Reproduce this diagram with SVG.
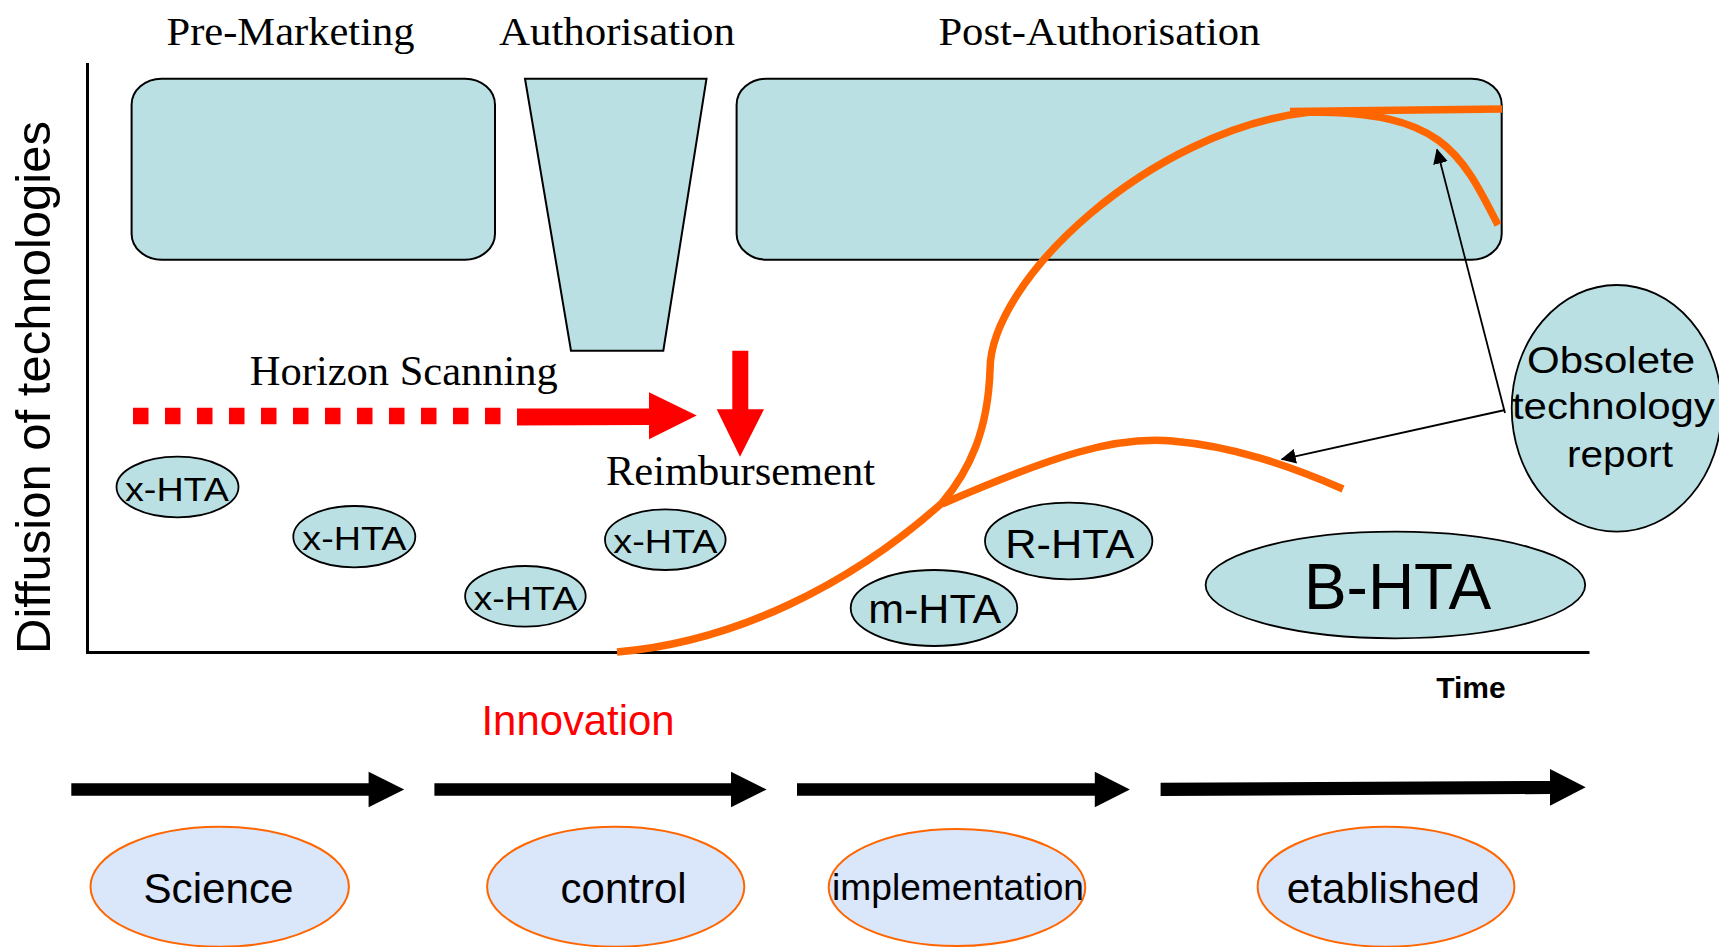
<svg xmlns="http://www.w3.org/2000/svg" width="1719" height="947" viewBox="0 0 1719 947">
<defs>
<style>
.box{fill:#BAE0E3;stroke:#000;stroke-width:2}
.ell{fill:#BAE0E3;stroke:#000;stroke-width:1.8}
.stage{fill:#DAE6FA;stroke:#FF6600;stroke-width:2}
.serif{font-family:"Liberation Serif","Times New Roman",serif;fill:#000}
.sans{font-family:"Liberation Sans",Arial,sans-serif;fill:#000}
.curve{fill:none;stroke:#FF6600;stroke-width:7.5}
.thin{fill:none;stroke:#000;stroke-width:1.8}
</style>
<marker id="ah" viewBox="0 0 15 15" refX="14" refY="7.5" markerWidth="15" markerHeight="15" markerUnits="userSpaceOnUse" orient="auto">
<path d="M0,0 L15,7.5 L0,15 Z" fill="#000"/>
</marker>
</defs>
<rect width="1719" height="947" fill="#fff"/>

<g id="phase-labels">
<text class="serif" x="290.5" y="45" font-size="41" text-anchor="middle" textLength="248" lengthAdjust="spacingAndGlyphs">Pre-Marketing</text>
<text class="serif" x="617" y="45" font-size="41" text-anchor="middle" textLength="236" lengthAdjust="spacingAndGlyphs">Authorisation</text>
<text class="serif" x="1099.4" y="45" font-size="41" text-anchor="middle" textLength="322" lengthAdjust="spacingAndGlyphs">Post-Authorisation</text>
</g>

<g id="pre-marketing"><rect class="box" x="131.6" y="78.7" width="363.4" height="181" rx="30" ry="26"/></g>
<g id="authorisation"><polygon class="box" points="525,78.7 706.5,78.7 663.3,350.7 571,350.7"/></g>
<g id="post-authorisation"><rect class="box" x="736.6" y="78.7" width="765.1" height="181" rx="30" ry="26"/></g>

<g id="axes">
<path d="M87.5,63 V652.5 H1589.5" fill="none" stroke="#000" stroke-width="3"/>
<text class="sans" font-size="49" text-anchor="middle" transform="translate(50,387.5) rotate(-90)">Diffusion of technologies</text>
<text class="sans" x="1471" y="698.3" font-size="30" font-weight="bold" text-anchor="middle">Time</text>
</g>

<g id="horizon-scanning">
<text class="serif" x="403.8" y="385" font-size="42" text-anchor="middle" textLength="308" lengthAdjust="spacingAndGlyphs">Horizon Scanning</text>
<line x1="133" y1="416" x2="501" y2="416" stroke="#FF0000" stroke-width="16.5" stroke-dasharray="15.5 16.5"/>
<polygon points="517,408.5 649,408.5 649,392.3 696.7,415.5 649,439.3 649,425 517,425.5" fill="#FF0000"/>
</g>

<g id="reimbursement">
<polygon points="732.3,350.7 748.3,350.7 748.3,409.3 764,409.3 740,456.7 716.7,409.3 732.3,409.3" fill="#FF0000"/>
<text class="serif" x="740.5" y="485" font-size="42" text-anchor="middle" textLength="269" lengthAdjust="spacingAndGlyphs">Reimbursement</text>
</g>

<g id="x-hta-1"><ellipse class="ell" cx="177.5" cy="487" rx="61" ry="30.3"/><text class="sans" x="177" y="500.7" font-size="34" text-anchor="middle" textLength="104" lengthAdjust="spacingAndGlyphs">x-HTA</text></g>
<g id="x-hta-2"><ellipse class="ell" cx="354.3" cy="536.7" rx="61" ry="30.7"/><text class="sans" x="354.3" y="550.4" font-size="34" text-anchor="middle" textLength="104" lengthAdjust="spacingAndGlyphs">x-HTA</text></g>
<g id="x-hta-3"><ellipse class="ell" cx="525.4" cy="596.3" rx="60.3" ry="30.3"/><text class="sans" x="525.4" y="609.5" font-size="34" text-anchor="middle" textLength="104" lengthAdjust="spacingAndGlyphs">x-HTA</text></g>
<g id="x-hta-4"><ellipse class="ell" cx="665.3" cy="539.7" rx="60.3" ry="30.3"/><text class="sans" x="665.3" y="553" font-size="34" text-anchor="middle" textLength="104" lengthAdjust="spacingAndGlyphs">x-HTA</text></g>

<g id="r-hta"><ellipse class="ell" cx="1068.7" cy="541" rx="83.7" ry="38.3"/><text class="sans" x="1069.8" y="557.7" font-size="41" text-anchor="middle" textLength="129" lengthAdjust="spacingAndGlyphs">R-HTA</text></g>
<g id="m-hta"><ellipse class="ell" cx="934" cy="608" rx="83.3" ry="38"/><text class="sans" x="934.7" y="623.3" font-size="41" text-anchor="middle" textLength="133" lengthAdjust="spacingAndGlyphs">m-HTA</text></g>
<g id="b-hta"><ellipse class="ell" cx="1395.4" cy="585" rx="189.8" ry="53.3"/><text class="sans" x="1397.5" y="609.3" font-size="64" text-anchor="middle">B-HTA</text></g>

<g id="curves">
<path class="curve" d="M617,652 C735,642 850,585 942,503 C970,470 988,430 990,370 C990,280 1150,130 1310,112 C1440,112 1460,150 1498,225"/>
<path class="curve" d="M1290,111.5 L1502,109" stroke-width="8"/>
<path class="curve" d="M942,504 C1055,455 1115,436 1172,441 C1232,446 1288,465 1343,489"/>
</g>

<g id="obsolete-report">
<ellipse class="ell" cx="1616.7" cy="408.3" rx="105" ry="123.3"/>
<text class="sans" x="1611" y="373.3" font-size="37" text-anchor="middle" textLength="168" lengthAdjust="spacingAndGlyphs">Obsolete</text>
<text class="sans" x="1613.4" y="418.5" font-size="37" text-anchor="middle" textLength="203" lengthAdjust="spacingAndGlyphs">technology</text>
<text class="sans" x="1620" y="466.7" font-size="37" text-anchor="middle" textLength="106" lengthAdjust="spacingAndGlyphs">report</text>
</g>

<g id="connectors">
<line class="thin" x1="1505" y1="413" x2="1437" y2="149.5" marker-end="url(#ah)"/>
<line class="thin" x1="1505" y1="410" x2="1281.7" y2="459.3" marker-end="url(#ah)"/>
</g>

<g id="innovation">
<text class="sans" x="578" y="735" font-size="43" style="fill:#FF0000" text-anchor="middle" textLength="193" lengthAdjust="spacingAndGlyphs">Innovation</text>
</g>

<g id="timeline-arrows">
<polygon points="71.3,783.3 368.6,783.3 368.6,771.7 404.2,789.5 368.6,807.3 368.6,795.7 71.3,795.7" fill="#000"/>
<polygon points="434.4,783.3 731,783.3 731,771.7 766.7,789.5 731,807.3 731,795.7 434.4,795.7" fill="#000"/>
<polygon points="797,783.3 1094.8,783.3 1094.8,771.7 1129.9,789.5 1094.8,807.3 1094.8,795.7 797,795.7" fill="#000"/>
<polygon points="1160.6,782.7 1550,781 1550,769 1585.7,787.3 1550,805.7 1550,794 1160.6,796" fill="#000"/>
</g>

<g id="science"><ellipse class="stage" cx="219.7" cy="886.7" rx="129.2" ry="60"/><text class="sans" x="218.5" y="903.3" font-size="42" text-anchor="middle" textLength="150" lengthAdjust="spacingAndGlyphs">Science</text></g>
<g id="control"><ellipse class="stage" cx="615.7" cy="886.7" rx="128.6" ry="60"/><text class="sans" x="623.6" y="903.3" font-size="42" text-anchor="middle" textLength="126" lengthAdjust="spacingAndGlyphs">control</text></g>
<g id="implementation"><ellipse class="stage" cx="957" cy="887.5" rx="128.3" ry="58.5"/><text class="sans" x="958" y="900" font-size="37" text-anchor="middle" textLength="252" lengthAdjust="spacingAndGlyphs">implementation</text></g>
<g id="etablished"><ellipse class="stage" cx="1386" cy="886.7" rx="128.4" ry="60"/><text class="sans" x="1383.3" y="903.3" font-size="42" text-anchor="middle" textLength="193" lengthAdjust="spacingAndGlyphs">etablished</text></g>
</svg>
